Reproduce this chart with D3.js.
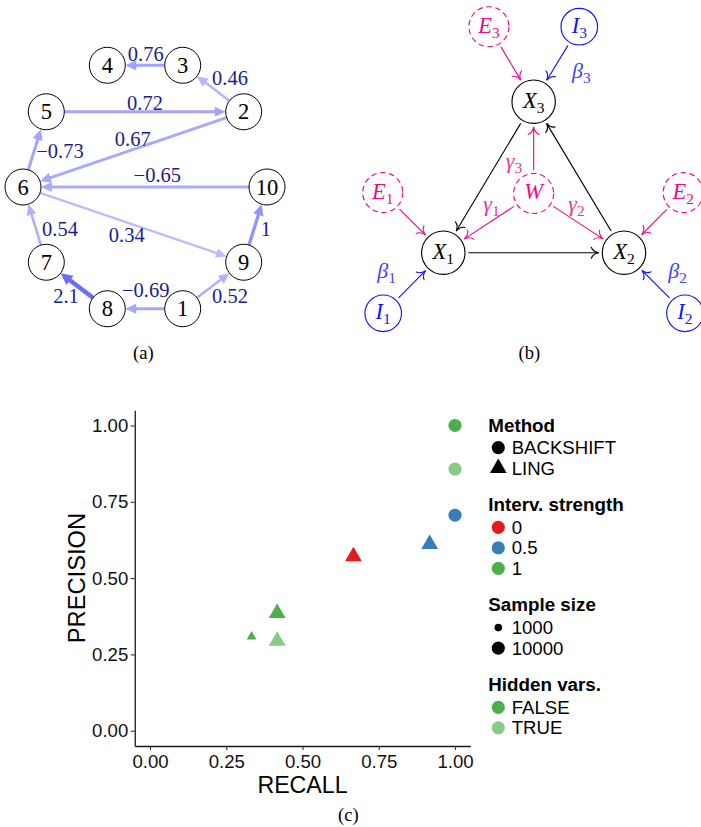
<!DOCTYPE html>
<html>
<head>
<meta charset="utf-8">
<script src="https://cdn.jsdelivr.net/npm/d3@7"></script>
<style>
  html, body { margin: 0; background: #ffffff; }
  svg { display: block; }
</style>
</head>
<body>
<svg id="fig" width="701" height="827"></svg>
<script>
// ---------- (a) estimated connectivity graph ----------
// nodes placed on a ring, counter-clockwise starting from the right
const netNodes = ["10", "2", "3", "4", "5", "6", "7", "8", "1", "9"];
const netFrom   = ["3", "2", "5", "2", "6", "10", "7", "6", "9", "1", "1", "8"];
const netTo     = ["4", "3", "2", "6", "5", "6", "6", "9", "10", "9", "8", "7"];
const netWeight = [0.76, 0.46, 0.72, 0.67, -0.73, -0.65, 0.54, 0.34, 1, 0.52, -0.69, 2.1];

// ---------- (b) model with hidden variable W ----------
const sysNodes = ["X1", "X2", "X3", "W", "E1", "E2", "E3", "I1", "I2", "I3"];
const sysKind  = ["obs", "obs", "obs", "hid", "hid", "hid", "hid", "int", "int", "int"];
const sysFrom  = ["X3", "X1", "X2", "E3", "I3", "W", "E1", "W", "I1", "E2", "W", "I2"];
const sysTo    = ["X1", "X2", "X3", "X3", "X3", "X3", "X1", "X1", "X1", "X2", "X2", "X2"];
const sysEdgeLabel = ["", "", "", "", "β3", "γ3", "", "γ1", "β1", "", "γ2", "β2"];

// ---------- (c) precision / recall ----------
const pMethod    = ["BACKSHIFT", "BACKSHIFT", "BACKSHIFT", "LING", "LING", "LING", "LING", "LING"];
const pRecall    = [1.00, 1.00, 1.00, 0.667, 0.917, 0.417, 0.333, 0.417];
const pPrecision = [1.00, 0.857, 0.706, 0.571, 0.611, 0.385, 0.308, 0.294];
const pStrength  = ["1", "1", "0.5", "0", "0.5", "1", "1", "1"];
const pSample    = ["10000", "10000", "10000", "10000", "10000", "10000", "1000", "10000"];
const pHidden    = ["FALSE", "TRUE", "FALSE", "FALSE", "FALSE", "FALSE", "FALSE", "TRUE"];

const methodLevels   = ["BACKSHIFT", "LING"];
const strengthLevels = ["0", "0.5", "1"];
const sampleLevels   = ["1000", "10000"];
const hiddenLevels   = ["FALSE", "TRUE"];
const axisTicks      = [0, 0.25, 0.5, 0.75, 1];

const serif = "'Liberation Serif','DejaVu Serif',serif";
const sans  = "'Liberation Sans',Arial,Helvetica,sans-serif";
const svg = d3.select("#fig");

// =====================================================================
// (a)
// =====================================================================
(function drawNetwork() {
  const ring = { cx: 145, cy: 187, rx: 122, ry: 128, r: 18 };
  const angle = d3.scaleLinear().domain([0, netNodes.length]).range([0, 2 * Math.PI]);
  const pos = new Map(netNodes.map((n, i) => [n, {
    x: ring.cx + ring.rx * Math.cos(angle(i)),
    y: ring.cy - ring.ry * Math.sin(angle(i))
  }]));

  const width = d3.scaleLinear().domain([0.3, 1, 2.1]).range([2.3, 3.3, 4.5]);
  const colour = d3.scaleLinear().domain([0.3, 1, 2.1])
    .range(["#bfbfff", "#9393ff", "#6c6cff"]);
  const fmt = d3.format(".2~f");

  // label offsets from each edge's midpoint
  const nudge = {
    "3-4": [0.7, -11.3], "2-3": [16.8, -10.2], "5-2": [0, -9.1], "2-6": [-0.6, -10.1],
    "6-5": [25.3, 1.3], "10-6": [12.3, -12], "7-6": [25.3, 4.7], "6-9": [-6.6, 10.4],
    "9-10": [10.4, 4.7], "1-9": [16.8, 10.5], "1-8": [0.7, -18.7], "8-7": [-10.8, 10.5]
  };

  const edges = netFrom.map((f, i) => {
    const s = pos.get(f), t = pos.get(netTo[i]);
    const dx = t.x - s.x, dy = t.y - s.y, len = Math.hypot(dx, dy);
    const ux = dx / len, uy = dy / len;
    const w = Math.abs(netWeight[i]);
    const lw = width(w), L = 9.5 + lw * 0.5, H = 3.8 + lw * 0.45;
    const tip = { x: t.x - ux * ring.r, y: t.y - uy * ring.r };
    const nb = nudge[f + "-" + netTo[i]] || [0, 0];
    return {
      w, lw, col: colour(w), label: fmt(netWeight[i]),
      x1: s.x + ux * ring.r, y1: s.y + uy * ring.r,
      x2: tip.x - ux * L * 0.6, y2: tip.y - uy * L * 0.6,
      head: [[tip.x, tip.y],
             [tip.x - ux * L - uy * H, tip.y - uy * L + ux * H],
             [tip.x - ux * L + uy * H, tip.y - uy * L - ux * H]],
      lx: (s.x + t.x) / 2 + nb[0], ly: (s.y + t.y) / 2 + nb[1]
    };
  });

  const g = svg.append("g").attr("class", "panel-a");
  g.selectAll("line.edge").data(edges).join("line").attr("class", "edge")
    .attr("x1", d => d.x1).attr("y1", d => d.y1)
    .attr("x2", d => d.x2).attr("y2", d => d.y2)
    .attr("stroke", d => d.col).attr("stroke-width", d => d.lw);
  g.selectAll("polygon.head").data(edges).join("polygon").attr("class", "head")
    .attr("points", d => d.head.map(p => p.join(",")).join(" "))
    .attr("fill", d => d.col);

  const nodes = g.selectAll("g.node").data(netNodes).join("g").attr("class", "node")
    .attr("transform", n => `translate(${pos.get(n).x},${pos.get(n).y})`);
  nodes.append("circle").attr("r", ring.r).attr("fill", "#fff")
    .attr("stroke", "#000").attr("stroke-width", 1);
  nodes.append("text").text(n => n).attr("text-anchor", "middle").attr("dy", "0.34em")
    .attr("font-family", serif).attr("font-size", 22.5).attr("fill", "#000");

  g.selectAll("text.wlab").data(edges).join("text").attr("class", "wlab")
    .attr("x", d => d.lx).attr("y", d => d.ly).attr("dy", "0.34em")
    .attr("text-anchor", "middle").attr("font-family", serif).attr("font-size", 20.5)
    .attr("fill", "#1d1d8c").text(d => d.label);

  svg.append("text").attr("x", 143.3).attr("y", 353).attr("dy", "0.33em")
    .attr("text-anchor", "middle").attr("font-family", serif).attr("font-size", 18.5)
    .text("(a)");
})();

// =====================================================================
// (b)
// =====================================================================
(function drawModel() {
  const pink = "#ec0b8c", blue = "#1414f5", ink = "#000";
  const layout = {
    X1: [0, 0], X2: [4, 0], X3: [2, 3.34], W: [2, 1.31],
    E1: [-1.34, 1.33], E2: [5.31, 1.33], E3: [1.01, 5],
    I1: [-1.33, -1.34], I2: [5.35, -1.34], I3: [3.01, 5]
  };
  const x = d3.scaleLinear().domain([0, 4]).range([443.3, 624]);
  const y = d3.scaleLinear().domain([0, 5]).range([252.7, 26.7]);
  const kindStyle = {
    obs: { r: 21.7, stroke: ink, dash: null, text: ink },
    hid: { r: 20, stroke: pink, dash: "5.5,3.6", text: pink },
    int: { r: 18.3, stroke: blue, dash: null, text: blue }
  };
  const node = new Map(sysNodes.map((n, i) => [n, {
    id: n, kind: sysKind[i], x: x(layout[n][0]), y: y(layout[n][1]), ...kindStyle[sysKind[i]]
  }]));

  const defs = svg.append("defs");
  [["ink", ink], ["pink", pink], ["blue", blue]].forEach(([name, c]) => {
    defs.append("marker").attr("id", "to-" + name)
      .attr("viewBox", "-10 -8 12 16").attr("refX", 0).attr("refY", 0)
      .attr("markerWidth", 12).attr("markerHeight", 16)
      .attr("markerUnits", "userSpaceOnUse").attr("orient", "auto")
      .append("path").attr("d", "M-7.5,-5.5 C-6.5,-2.6 -2.8,-0.5 0,0 C-2.8,0.5 -6.5,2.6 -7.5,5.5")
      .attr("fill", "none").attr("stroke", c).attr("stroke-width", 1.1)
      .attr("stroke-linecap", "round");
  });

  const labelNudge = { "I3": [25, 8.8], "W-X3": [-19.7, 15.2], "W-X1": [3, -17],
                       "W-X2": [-2.3, -17], "I1": [-26.6, -10.3], "I2": [23.2, -10.3] };
  const gap = 3.5;
  const edges = sysFrom.map((f, i) => {
    const s = node.get(f), t = node.get(sysTo[i]);
    const dx = t.x - s.x, dy = t.y - s.y, len = Math.hypot(dx, dy);
    const ux = dx / len, uy = dy / len;
    const kind = s.kind === "obs" ? "ink" : (s.kind === "int" ? "blue" : "pink");
    const key = f.startsWith("I") ? f : f + "-" + sysTo[i];
    const nb = labelNudge[key] || [0, 0];
    return {
      kind, colour: kind === "ink" ? ink : (kind === "blue" ? blue : pink),
      x1: s.x + ux * (s.r + gap), y1: s.y + uy * (s.r + gap),
      x2: t.x - ux * (t.r + gap), y2: t.y - uy * (t.r + gap),
      label: sysEdgeLabel[i],
      lx: (s.x + t.x) / 2 + nb[0], ly: (s.y + t.y) / 2 + nb[1]
    };
  });

  const g = svg.append("g").attr("class", "panel-b");
  g.selectAll("line").data(edges).join("line")
    .attr("x1", d => d.x1).attr("y1", d => d.y1)
    .attr("x2", d => d.x2).attr("y2", d => d.y2)
    .attr("stroke", d => d.colour).attr("stroke-width", 1.15)
    .attr("marker-end", d => `url(#to-${d.kind})`);

  // italic symbol with an upright subscript
  function mathText(sel, sym, sub, size, subSize) {
    sel.append("tspan").attr("font-style", "italic").text(sym);
    if (sub) sel.append("tspan").attr("font-size", subSize).attr("dy", size * 0.22).text(sub);
  }

  const ng = g.selectAll("g.node").data([...node.values()]).join("g").attr("class", "node")
    .attr("transform", d => `translate(${d.x},${d.y})`);
  ng.append("circle").attr("r", d => d.r).attr("fill", "#fff")
    .attr("stroke", d => d.stroke).attr("stroke-width", 1.15)
    .attr("stroke-dasharray", d => d.dash);
  ng.append("text").attr("text-anchor", "middle").attr("y", 6)
    .attr("font-family", serif).attr("font-size", 22.5).attr("fill", d => d.text)
    .each(function (d) { mathText(d3.select(this), d.id[0], d.id.slice(1), 22.5, 15.5); });

  g.selectAll("text.coef").data(edges.filter(e => e.label)).join("text").attr("class", "coef")
    .attr("x", d => d.lx).attr("y", d => d.ly + 5).attr("text-anchor", "middle")
    .attr("font-family", serif).attr("font-size", 22)
    .attr("fill", d => d.label[0] === "β" ? "#4343f0" : "#ee3399")
    .each(function (d) { mathText(d3.select(this), d.label[0], d.label.slice(1), 22, 15.5); });

  svg.append("text").attr("x", 529.3).attr("y", 352.7).attr("dy", "0.33em")
    .attr("text-anchor", "middle").attr("font-family", serif).attr("font-size", 18.5)
    .text("(b)");
})();

// =====================================================================
// (c)
// =====================================================================
(function drawScatter() {
  const x = d3.scaleLinear().domain([-0.05, 1.05]).range([134.75, 470.25]);
  const y = d3.scaleLinear().domain([-0.05, 1.05]).range([746, 410.2]);
  const colour = d3.scaleOrdinal().domain(strengthLevels).range(["#e41a1c", "#377eb8", "#4daf4a"]);
  const alpha = d3.scaleOrdinal().domain(hiddenLevels).range([1, 0.66]);
  const scale = d3.scaleOrdinal().domain(sampleLevels).range([0.58, 1]);
  const shape = d3.scaleOrdinal().domain(methodLevels).range([d3.symbolCircle, d3.symbolTriangle]);
  const baseArea = { BACKSHIFT: 136, LING: 122 };
  const sym = (m, s) => d3.symbol().type(shape(m)).size(baseArea[m] * scale(s) * scale(s))();

  const g = svg.append("g").attr("class", "panel-c");

  const xAxis = d3.axisBottom(x).tickValues(axisTicks).tickFormat(d3.format(".2f"))
    .tickSize(4).tickSizeOuter(0).tickPadding(4.5);
  const yAxis = d3.axisLeft(y).tickValues(axisTicks).tickFormat(d3.format(".2f"))
    .tickSize(4).tickSizeOuter(0).tickPadding(2.5);
  const gx = g.append("g").attr("transform", "translate(0,746)").call(xAxis);
  const gy = g.append("g").attr("transform", "translate(134.75,0)").call(yAxis);
  [gx, gy].forEach(a => {
    a.select(".domain").attr("stroke", "#1a1a1a").attr("stroke-width", 1.3);
    a.selectAll(".tick line").attr("stroke", "#333").attr("stroke-width", 1.1);
    a.selectAll(".tick text").attr("fill", "#111").attr("font-family", sans).attr("font-size", 18.6);
  });

  g.append("text").attr("x", (134.75 + 470.25) / 2).attr("y", 792.5)
    .attr("text-anchor", "middle").attr("font-family", sans).attr("font-size", 23.2)
    .attr("fill", "#000").text("RECALL");
  g.append("text").attr("transform", `translate(77,${(410.2 + 746) / 2}) rotate(-90)`)
    .attr("dy", "0.35em").attr("text-anchor", "middle").attr("font-family", sans)
    .attr("font-size", 23.7).attr("fill", "#000").text("PRECISION");

  const pts = pMethod.map((m, i) => ({
    m, r: pRecall[i], p: pPrecision[i], s: pStrength[i], n: pSample[i], h: pHidden[i]
  }));
  g.selectAll("path.pt").data(pts).join("path").attr("class", "pt")
    .attr("transform", d => `translate(${x(d.r)},${y(d.p)})`)
    .attr("d", d => sym(d.m, d.n))
    .attr("fill", d => colour(d.s)).attr("fill-opacity", d => alpha(d.h));

  // legends
  const groups = [
    { title: "Method", items: methodLevels.map(m => ({ label: m, d: sym(m, "10000"), fill: "#000", op: 1 })) },
    { title: "Interv. strength", items: strengthLevels.map(s => ({ label: s, d: sym("BACKSHIFT", "10000"), fill: colour(s), op: 1 })) },
    { title: "Sample size", items: sampleLevels.map(s => ({ label: s, d: sym("BACKSHIFT", s), fill: "#000", op: 1 })) },
    { title: "Hidden vars.", items: hiddenLevels.map(h => ({ label: h, d: sym("BACKSHIFT", "10000"), fill: colour("1"), op: alpha(h) })) }
  ];
  const lg = g.append("g").attr("class", "legend");
  let cy = 425;
  groups.forEach((grp, gi) => {
    if (gi > 0) cy += 36.5;
    lg.append("text").attr("x", 488.3).attr("y", cy).attr("dy", "0.35em")
      .attr("font-family", sans).attr("font-weight", "bold").attr("font-size", 18.8)
      .attr("fill", "#000").text(grp.title);
    cy += 22.7;
    grp.items.forEach((it, ii) => {
      if (ii > 0) cy += 20.5;
      lg.append("path").attr("transform", `translate(498.3,${cy})`).attr("d", it.d)
        .attr("fill", it.fill).attr("fill-opacity", it.op);
      lg.append("text").attr("x", 511.7).attr("y", cy).attr("dy", "0.35em")
        .attr("font-family", sans).attr("font-size", 18.6).attr("fill", "#000").text(it.label);
    });
  });

  svg.append("text").attr("x", 348.3).attr("y", 815).attr("dy", "0.33em")
    .attr("text-anchor", "middle").attr("font-family", serif).attr("font-size", 18.5)
    .text("(c)");
})();
</script>
</body>
</html>
